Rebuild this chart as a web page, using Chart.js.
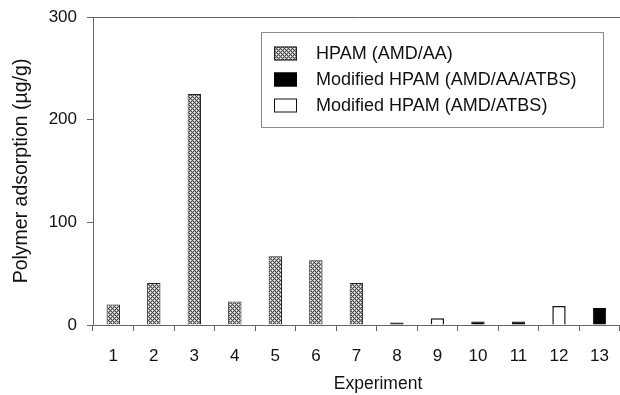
<!DOCTYPE html>
<html>
<head>
<meta charset="utf-8">
<script src="https://cdn.jsdelivr.net/npm/chart.js@4.4.0/dist/chart.umd.min.js"></script>
<style>
  html, body { margin: 0; padding: 0; background: #fff; overflow: hidden; }
  #wrap { position: relative; width: 620px; height: 395px; overflow: hidden; }
  #myChart { position: absolute; left: 0; top: 0; }
</style>
</head>
<body>
<div id="wrap"><canvas id="myChart" width="624" height="395"></canvas></div>
<script>
// data
const experiments = ["1", "2", "3", "4", "5", "6", "7", "8", "9", "10", "11", "12", "13"];
const hpam      = [20, 41, 225, 23, 67, 63, 41, null, null, null, null, null, null];
const modAaAtbs = [null, null, null, null, null, null, null, 2.5, null, 3.5, 3.5, null, 16.5];
const modAtbs   = [null, null, null, null, null, null, null, null, 6.5, null, null, 18.5, null];
const yTicks = [0, 100, 200, 300];

const FONT = "'Liberation Sans', Arial, sans-serif";
const axisColor = "#666";
const ctx = document.querySelector("#myChart");

// little crosshatch tile for the HPAM bars
const makeHatch = () => {
    const tile = document.createElement("canvas");
    tile.width = 4;
    tile.height = 4;
    const t = tile.getContext("2d");
    t.fillStyle = "#b0b0b0";
    t.fillRect(0, 0, 4, 4);
    t.fillStyle = "#4a4a4a";
    [[0, 0], [1, 1], [2, 2], [3, 3], [1, 3], [3, 1]].forEach(([x, y]) => t.fillRect(x, y, 1, 1));
    t.fillStyle = "#ffffff";
    [[2, 0], [0, 2]].forEach(([x, y]) => t.fillRect(x, y, 1, 1));
    return ctx.getContext("2d").createPattern(tile, "repeat");
};
const hatch = makeHatch();

// legend box inside the plot, top frame line, x title (sits right of centre in the original)
const boxLegend = {
    id: "boxLegend",
    afterDraw(chart) {
        const c = chart.ctx;
        const area = chart.chartArea;
        c.save();
        c.strokeStyle = axisColor;
        c.lineWidth = 1;
        c.beginPath();
        c.moveTo(area.left, area.top + 0.5);
        c.lineTo(chart.width, area.top + 0.5);
        c.stroke();

        const bx = 261, by = 32, bw = 342, bh = 95;
        c.strokeStyle = "#8a8a8a";
        c.strokeRect(bx + 0.5, by + 0.5, bw, bh);

        c.font = "18px " + FONT;
        c.textBaseline = "middle";
        chart.data.datasets.forEach((ds, i) => {
            const cy = 53.5 + i * 26;
            c.fillStyle = ds.backgroundColor;
            c.fillRect(274, cy - 7, 23, 14);
            c.strokeStyle = ds.borderColor;
            c.strokeRect(274.5, cy - 6.5, 22, 13);
            c.fillStyle = "#111";
            c.fillText(ds.label, 316, cy + 1);
        });

        c.font = "17.5px " + FONT;
        c.textAlign = "center";
        c.fillStyle = "#111";
        c.fillText("Experiment", 378, 384);
        c.restore();
    }
};

new Chart(ctx, {
    type: "bar",
    data: {
        labels: experiments,
        datasets: [{
            label: "HPAM (AMD/AA)",
            data: hpam,
            backgroundColor: hatch,
            borderColor: "#222",
            borderWidth: 1
        }, {
            label: "Modified HPAM (AMD/AA/ATBS)",
            data: modAaAtbs,
            backgroundColor: "#000",
            borderColor: "#000",
            borderWidth: 1
        }, {
            label: "Modified HPAM (AMD/ATBS)",
            data: modAtbs,
            backgroundColor: "#fff",
            borderColor: "#111",
            borderWidth: 1.5
        }]
    },
    options: {
        responsive: false,
        animation: false,
        grouped: false,
        categoryPercentage: 1,
        barPercentage: 0.33,
        layout: { padding: { top: 17, right: 1, bottom: 0, left: 0 } },
        plugins: {
            legend: { display: false },
            tooltip: { enabled: false }
        },
        scales: {
            x: {
                grid: { drawOnChartArea: false, drawTicks: true, tickLength: 6, color: axisColor, offset: true },
                border: { display: true, color: axisColor, width: 1 },
                ticks: { color: "#111", font: { family: FONT, size: 17 }, padding: 15, maxRotation: 0, autoSkip: false },
                title: { display: false },
                afterFit: (scale) => { scale.height = 70; }
            },
            y: {
                min: 0,
                max: 300,
                afterBuildTicks: (scale) => { scale.ticks = yTicks.map(v => ({ value: v })); },
                grid: { drawOnChartArea: false, drawTicks: true, tickLength: 6, color: axisColor },
                border: { display: true, color: axisColor, width: 1 },
                ticks: { color: "#111", font: { family: FONT, size: 17 }, padding: 10 },
                title: { display: true, text: "Polymer adsorption (µg/g)", color: "#111", font: { family: FONT, size: 19.5, lineHeight: 1.2 }, padding: { top: 10, bottom: 0 } },
                afterFit: (scale) => {
                    scale.width = 93;
                    scale.paddingTop = 0;
                    scale.paddingBottom = 0;
                }
            }
        }
    },
    plugins: [boxLegend]
});
</script>
</body>
</html>
